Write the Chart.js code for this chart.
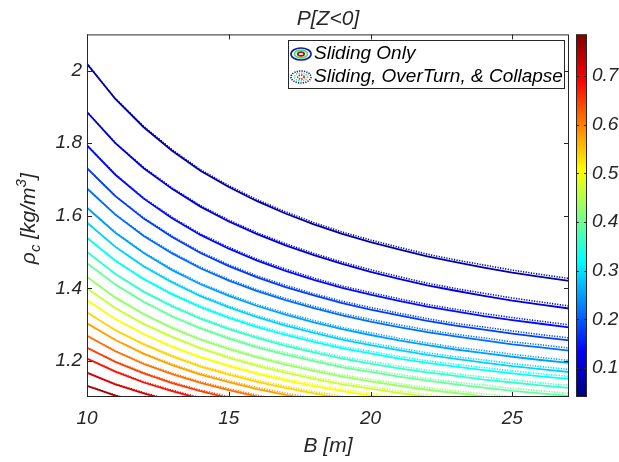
<!DOCTYPE html>
<html>
<head>
<meta charset="utf-8">
<script src="https://cdn.jsdelivr.net/npm/chart.js@4.4.1/dist/chart.umd.min.js"></script>
<style>
  html, body { margin: 0; padding: 0; background: #fff; }
  #wrap { width: 619px; height: 462px; }
</style>
</head>
<body>
<div id="wrap"><canvas id="c" width="619" height="462"></canvas></div>
<script>
// B [m] grid the contours were read on
const bValues = [10, 11, 12, 13, 14, 15, 16, 17, 18, 19, 20, 21, 22, 23, 24, 25, 26, 27];

// contour levels of P[Z<0], top line first
const contourLevels = [0.07, 0.106, 0.142, 0.178, 0.214, 0.25, 0.286, 0.322, 0.358, 0.394,
  0.43, 0.466, 0.502, 0.538, 0.574, 0.61, 0.646, 0.682, 0.718, 0.754];

// "Sliding Only" (solid) rho_c per contour
const slide1 = [2.019, 1.922, 1.844, 1.779, 1.724, 1.679, 1.640, 1.606, 1.576, 1.550, 1.527, 1.507, 1.488, 1.472, 1.457, 1.443, 1.431, 1.420];
const slide2 = [1.886, 1.800, 1.731, 1.674, 1.625, 1.584, 1.549, 1.518, 1.491, 1.467, 1.445, 1.426, 1.408, 1.393, 1.379, 1.366, 1.355, 1.344];
const slide3 = [1.794, 1.713, 1.647, 1.593, 1.547, 1.509, 1.476, 1.448, 1.423, 1.401, 1.382, 1.365, 1.349, 1.336, 1.323, 1.312, 1.302, 1.292];
const slide4 = [1.731, 1.654, 1.592, 1.541, 1.497, 1.461, 1.430, 1.403, 1.380, 1.359, 1.341, 1.325, 1.310, 1.297, 1.286, 1.275, 1.265, 1.256];
const slide5 = [1.675, 1.603, 1.544, 1.496, 1.455, 1.421, 1.392, 1.367, 1.345, 1.325, 1.308, 1.293, 1.279, 1.267, 1.256, 1.245, 1.237, 1.228];
const slide6 = [1.622, 1.553, 1.497, 1.450, 1.411, 1.379, 1.351, 1.327, 1.306, 1.287, 1.271, 1.256, 1.243, 1.231, 1.221, 1.211, 1.202, 1.194];
const slide7 = [1.581, 1.514, 1.460, 1.416, 1.378, 1.347, 1.320, 1.297, 1.277, 1.258, 1.243, 1.229, 1.216, 1.205, 1.195, 1.185, 1.177, 1.169];
const slide8 = [1.539, 1.476, 1.425, 1.383, 1.348, 1.318, 1.293, 1.271, 1.252, 1.234, 1.220, 1.206, 1.194, 1.184, 1.174, 1.165, 1.157, 1.150];
const slide9 = [1.500, 1.439, 1.390, 1.350, 1.316, 1.287, 1.263, 1.241, 1.223, 1.206, 1.192, 1.179, 1.168, 1.158, 1.148, 1.140, 1.132, 1.125];
const slide10 = [1.469, 1.410, 1.362, 1.322, 1.289, 1.261, 1.237, 1.217, 1.199, 1.182, 1.169, 1.156, 1.145, 1.135, 1.126, 1.117, 1.110, 1.103];
const slide11 = [1.431, 1.374, 1.328, 1.290, 1.258, 1.232, 1.209, 1.189, 1.172, 1.156, 1.143, 1.131, 1.120, 1.111, 1.102, 1.094];
const slide12 = [1.400, 1.345, 1.301, 1.265, 1.234, 1.208, 1.186, 1.167, 1.150, 1.135, 1.123, 1.111, 1.101, 1.091];
const slide13 = [1.367, 1.315, 1.273, 1.238, 1.209, 1.185, 1.164, 1.146, 1.130, 1.116, 1.104, 1.093];
const slide14 = [1.333, 1.284, 1.245, 1.212, 1.184, 1.162, 1.142, 1.125, 1.110, 1.097];
const slide15 = [1.303, 1.257, 1.219, 1.188, 1.162, 1.141, 1.122, 1.106, 1.092];
const slide16 = [1.269, 1.226, 1.191, 1.163, 1.139, 1.119, 1.101, 1.086];
const slide17 = [1.236, 1.197, 1.165, 1.138, 1.116, 1.097];
const slide18 = [1.206, 1.170, 1.140, 1.116, 1.095];
const slide19 = [1.167, 1.135, 1.110, 1.088];
const slide20 = [1.131, 1.104, 1.081];

// "Sliding, OverTurn, & Collapse" (dotted) rho_c per contour
const collapse1 = [2.019, 1.923, 1.846, 1.782, 1.727, 1.683, 1.644, 1.611, 1.581, 1.555, 1.533, 1.513, 1.494, 1.478, 1.464, 1.450, 1.438, 1.427];
const collapse2 = [1.886, 1.801, 1.733, 1.677, 1.628, 1.588, 1.553, 1.523, 1.496, 1.472, 1.451, 1.432, 1.414, 1.399, 1.386, 1.373, 1.362, 1.351];
const collapse3 = [1.794, 1.714, 1.649, 1.596, 1.550, 1.513, 1.480, 1.453, 1.428, 1.406, 1.388, 1.371, 1.355, 1.342, 1.330, 1.319, 1.309, 1.299];
const collapse4 = [1.731, 1.655, 1.594, 1.544, 1.500, 1.465, 1.434, 1.408, 1.385, 1.364, 1.347, 1.331, 1.316, 1.303, 1.293, 1.282, 1.272, 1.263];
const collapse5 = [1.675, 1.604, 1.546, 1.499, 1.458, 1.425, 1.396, 1.372, 1.350, 1.330, 1.314, 1.299, 1.285, 1.273, 1.263, 1.252, 1.244, 1.235];
const collapse6 = [1.622, 1.554, 1.499, 1.453, 1.414, 1.383, 1.355, 1.332, 1.311, 1.292, 1.277, 1.262, 1.249, 1.237, 1.228, 1.218, 1.209, 1.201];
const collapse7 = [1.581, 1.515, 1.462, 1.419, 1.381, 1.351, 1.324, 1.302, 1.282, 1.263, 1.249, 1.235, 1.222, 1.211, 1.202, 1.192, 1.184, 1.176];
const collapse8 = [1.539, 1.477, 1.427, 1.386, 1.351, 1.322, 1.297, 1.276, 1.257, 1.239, 1.226, 1.212, 1.200, 1.190, 1.181, 1.172, 1.164, 1.157];
const collapse9 = [1.500, 1.440, 1.392, 1.353, 1.319, 1.291, 1.267, 1.246, 1.228, 1.211, 1.198, 1.185, 1.174, 1.164, 1.155, 1.147, 1.139, 1.132];
const collapse10 = [1.469, 1.411, 1.364, 1.325, 1.292, 1.265, 1.241, 1.222, 1.204, 1.187, 1.175, 1.162, 1.151, 1.141, 1.133, 1.124, 1.117, 1.110];
const collapse11 = [1.431, 1.375, 1.330, 1.293, 1.261, 1.236, 1.213, 1.194, 1.177, 1.161, 1.149, 1.137, 1.126, 1.117, 1.109, 1.101, 1.094];
const collapse12 = [1.400, 1.346, 1.303, 1.268, 1.237, 1.212, 1.190, 1.172, 1.155, 1.140, 1.129, 1.117, 1.107, 1.097];
const collapse13 = [1.367, 1.316, 1.275, 1.241, 1.212, 1.189, 1.168, 1.151, 1.135, 1.121, 1.110, 1.099];
const collapse14 = [1.333, 1.285, 1.247, 1.215, 1.187, 1.166, 1.146, 1.130, 1.115, 1.102, 1.091];
const collapse15 = [1.303, 1.258, 1.221, 1.191, 1.165, 1.145, 1.126, 1.111, 1.097];
const collapse16 = [1.269, 1.227, 1.193, 1.166, 1.142, 1.123, 1.105, 1.091];
const collapse17 = [1.236, 1.198, 1.167, 1.141, 1.119, 1.101, 1.086];
const collapse18 = [1.206, 1.171, 1.142, 1.119, 1.098];
const collapse19 = [1.167, 1.136, 1.112, 1.091];
const collapse20 = [1.131, 1.105, 1.083];

const slideLines = [slide1, slide2, slide3, slide4, slide5, slide6, slide7, slide8, slide9, slide10,
  slide11, slide12, slide13, slide14, slide15, slide16, slide17, slide18, slide19, slide20];
const collapseLines = [collapse1, collapse2, collapse3, collapse4, collapse5, collapse6, collapse7, collapse8, collapse9, collapse10,
  collapse11, collapse12, collapse13, collapse14, collapse15, collapse16, collapse17, collapse18, collapse19, collapse20];

const xTickValues = [10, 15, 20, 25];
const yTickValues = [1.2, 1.4, 1.6, 1.8, 2];
const cbTickValues = [0.1, 0.2, 0.3, 0.4, 0.5, 0.6, 0.7];
const cbMin = 0.04;
const cbMax = 0.786;

const legendLabels = ["Sliding Only", "Sliding, OverTurn, & Collapse"];
const titleText = "P[Z<0]";
const xTitleText = "B [m]";

const FONT = "'Liberation Sans', Arial, sans-serif";
const INK = "#262626";

function clamp01(v) {
  return Math.max(0, Math.min(1, v));
}

function jet(t) {
  const r = clamp01(1.5 - Math.abs(4 * t - 3));
  const g = clamp01(1.5 - Math.abs(4 * t - 2));
  const b = clamp01(1.5 - Math.abs(4 * t - 1));
  return `rgb(${Math.round(r * 255)},${Math.round(g * 255)},${Math.round(b * 255)})`;
}

function levelColor(level) {
  return jet((level - cbMin) / (cbMax - cbMin));
}

function toPoints(ys) {
  return ys.map((y, i) => ({ x: bValues[i], y }));
}

const datasets = [];
slideLines.forEach((ys, i) => {
  datasets.push({
    label: legendLabels[0],
    data: toPoints(ys),
    borderColor: levelColor(contourLevels[i]),
    borderWidth: 1.8,
    pointRadius: 0,
    tension: 0,
    order: 1,
  });
});
collapseLines.forEach((ys, i) => {
  datasets.push({
    label: legendLabels[1],
    data: toPoints(ys),
    borderColor: levelColor(contourLevels[i]),
    borderWidth: 1.6,
    borderDash: [1.2, 1.4],
    pointRadius: 0,
    tension: 0,
    order: 0,
  });
});

function drawRings(ctx, cx, cy, dotted) {
  const rings = [
    { rx: 10, ry: 6, color: "#1a1aa8" },
    { rx: 6.5, ry: 3.8, color: "#3fe86a" },
    { rx: 3.2, ry: 1.9, color: "#b01010" },
  ];
  ctx.save();
  ctx.lineWidth = 1.7;
  ctx.setLineDash(dotted ? [1.2, 1.2] : []);
  for (const r of rings) {
    ctx.strokeStyle = r.color;
    ctx.beginPath();
    ctx.ellipse(cx, cy, r.rx, r.ry, 0, 0, Math.PI * 2);
    ctx.stroke();
  }
  ctx.restore();
}

const decorPlugin = {
  id: "decor",
  afterDraw(chart) {
    const { ctx, chartArea: a, scales } = chart;
    const xs = scales.x;
    const ys = scales.y;
    const cb = scales.cb;
    ctx.save();

    // axes box with inward ticks
    ctx.strokeStyle = INK;
    ctx.lineWidth = 1;
    ctx.strokeRect(a.left + 0.5, a.top + 0.5, a.right - a.left - 1, a.bottom - a.top - 1);
    ctx.beginPath();
    for (const v of xTickValues) {
      const px = Math.round(xs.getPixelForValue(v)) + 0.5;
      ctx.moveTo(px, a.bottom);
      ctx.lineTo(px, a.bottom - 5);
      ctx.moveTo(px, a.top);
      ctx.lineTo(px, a.top + 5);
    }
    for (const v of yTickValues) {
      const py = Math.round(ys.getPixelForValue(v)) + 0.5;
      ctx.moveTo(a.left, py);
      ctx.lineTo(a.left + 5, py);
      ctx.moveTo(a.right, py);
      ctx.lineTo(a.right - 5, py);
    }
    ctx.stroke();

    // title
    ctx.fillStyle = INK;
    ctx.font = `italic 21px ${FONT}`;
    ctx.textAlign = "center";
    ctx.textBaseline = "middle";
    ctx.fillText(titleText, (a.left + a.right) / 2, 19);

    // y title: rho_c [kg/m^3]
    ctx.save();
    ctx.translate(28, (a.top + a.bottom) / 2 + 3);
    ctx.rotate(-Math.PI / 2);
    ctx.textAlign = "left";
    ctx.textBaseline = "alphabetic";
    const big = `italic 21px ${FONT}`;
    const small = `italic 15px ${FONT}`;
    const parts = [
      { t: "\u03c1", f: big, dy: 0 },
      { t: "c", f: small, dy: 5 },
      { t: " [kg/m", f: big, dy: 0 },
      { t: "3", f: small, dy: -9 },
      { t: "]", f: big, dy: 0 },
    ];
    let total = 0;
    for (const p of parts) {
      ctx.font = p.f;
      p.w = ctx.measureText(p.t).width;
      total += p.w;
    }
    let px = -total / 2;
    for (const p of parts) {
      ctx.font = p.f;
      ctx.fillText(p.t, px, 7 + p.dy);
      px += p.w;
    }
    ctx.restore();

    // colorbar
    const barL = 576;
    const barR = 587;
    const barTop = cb.getPixelForValue(cbMax);
    const barBot = cb.getPixelForValue(cbMin);
    const grad = ctx.createLinearGradient(0, barBot, 0, barTop);
    for (let i = 0; i <= 64; i++) grad.addColorStop(i / 64, jet(i / 64));
    ctx.fillStyle = grad;
    ctx.fillRect(barL, barTop, barR - barL, barBot - barTop);
    ctx.strokeStyle = INK;
    ctx.strokeRect(barL + 0.5, barTop + 0.5, barR - barL - 1, barBot - barTop - 1);
    ctx.beginPath();
    for (const v of cbTickValues) {
      const py = Math.round(cb.getPixelForValue(v)) + 0.5;
      ctx.moveTo(barR, py);
      ctx.lineTo(barR - 3, py);
      ctx.moveTo(barL, py);
      ctx.lineTo(barL + 3, py);
    }
    ctx.stroke();

    // legend box
    const lx = 288, ly = 40, lw = 276, lh = 48;
    ctx.fillStyle = "#fff";
    ctx.fillRect(lx, ly, lw, lh);
    ctx.strokeStyle = INK;
    ctx.strokeRect(lx + 0.5, ly + 0.5, lw, lh);
    drawRings(ctx, 301, 54, false);
    drawRings(ctx, 301, 77, true);
    ctx.fillStyle = "#000";
    ctx.font = `italic 19px ${FONT}`;
    ctx.textAlign = "left";
    ctx.textBaseline = "middle";
    ctx.fillText(legendLabels[0], 314, 54);
    ctx.fillText(legendLabels[1], 314, 77);

    ctx.restore();
  },
};

const tickFont = { family: FONT, size: 19, style: "italic" };

new Chart(document.getElementById("c"), {
  type: "line",
  data: { datasets },
  plugins: [decorPlugin],
  options: {
    responsive: false,
    animation: false,
    devicePixelRatio: 1,
    parsing: false,
    layout: { padding: { top: 34, left: 0, right: 0, bottom: 0 } },
    plugins: {
      legend: { display: false },
      tooltip: { enabled: false },
    },
    scales: {
      x: {
        type: "linear",
        min: 10,
        max: 27,
        afterBuildTicks(s) { s.ticks = xTickValues.map((v) => ({ value: v })); },
        afterFit(s) { s.height = 65; },
        grid: { display: false, drawTicks: false },
        border: { display: false },
        ticks: { color: INK, font: tickFont, padding: 10, maxRotation: 0, callback: (v) => String(v) },
        title: {
          display: true,
          text: xTitleText,
          color: INK,
          font: { family: FONT, size: 21, style: "italic" },
          padding: { top: 0, bottom: 3 },
        },
      },
      y: {
        type: "linear",
        position: "left",
        min: 1.1,
        max: 2.1,
        afterBuildTicks(s) { s.ticks = yTickValues.map((v) => ({ value: v })); },
        afterFit(s) { s.width = 87; },
        grid: { display: false, drawTicks: false },
        border: { display: false },
        ticks: { color: INK, font: tickFont, padding: 5, callback: (v) => String(v) },
      },
      cb: {
        type: "linear",
        position: "right",
        min: cbMin,
        max: cbMax,
        afterBuildTicks(s) { s.ticks = cbTickValues.map((v) => ({ value: v })); },
        afterFit(s) { s.width = 50; },
        grid: { display: false, drawTicks: false },
        border: { display: false },
        ticks: { color: INK, font: tickFont, padding: 23, callback: (v) => String(v) },
      },
    },
  },
});
</script>
</body>
</html>
